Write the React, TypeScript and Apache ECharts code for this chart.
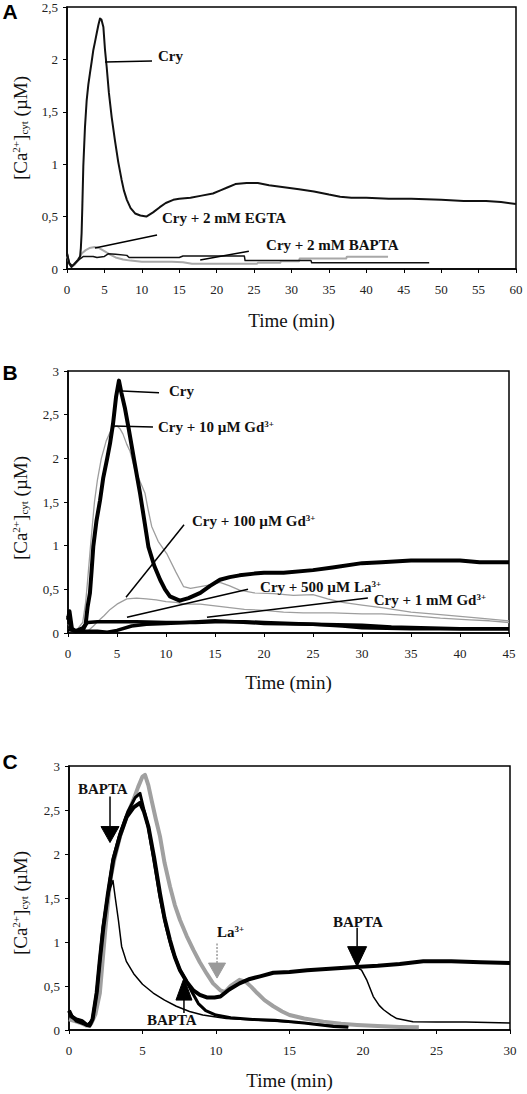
import React, { useEffect, useRef } from "react";
import * as echarts from "echarts";

type P = [number, number];

// ---------- Panel A (time in min, [Ca2+]cyt in µM) ----------
const aCry: P[] = [
  [0, 0.15], [0.3, 0.05], [0.6, 0.02], [1.0, 0.05], [1.5, 0.09], [1.75, 0.12], [1.85, 0.2], [1.95, 0.34],
  [2.05, 0.6], [2.18, 0.98], [2.4, 1.35], [2.63, 1.61], [2.85, 1.76], [3.07, 1.87], [3.3, 1.98], [3.52, 2.09],
  [3.75, 2.17], [3.97, 2.25], [4.2, 2.33], [4.41, 2.39], [4.6, 2.38], [4.86, 2.31], [5.08, 2.09], [5.3, 1.93],
  [5.6, 1.68], [5.97, 1.45], [6.4, 1.23], [6.85, 1.02], [7.3, 0.85], [7.6, 0.75], [8.0, 0.66], [8.5, 0.58],
  [9.1, 0.53], [9.8, 0.51], [10.6, 0.5], [11.5, 0.54], [12.4, 0.59], [13.2, 0.63], [14.2, 0.66], [15, 0.67],
  [16.5, 0.68], [18, 0.7], [19.5, 0.72], [20.5, 0.75], [21.5, 0.78], [22.5, 0.81], [24, 0.82], [25.5, 0.82],
  [27, 0.8], [29, 0.78], [31, 0.76], [33, 0.74], [35, 0.71], [36.5, 0.69], [38, 0.68], [40, 0.68], [43, 0.67],
  [46, 0.67], [50, 0.66], [53, 0.65], [56, 0.65], [58, 0.64], [60, 0.62],
];
const aEgta: P[] = [
  [0, 0.12], [0.3, 0.06], [0.6, 0.02], [1.0, 0.04], [1.5, 0.09], [2.0, 0.15], [2.5, 0.18], [3.0, 0.2],
  [3.7, 0.21], [4.3, 0.2], [5.0, 0.17], [5.7, 0.14], [6.5, 0.11], [7.5, 0.09], [8.5, 0.08], [10, 0.07],
  [12, 0.07], [14, 0.07], [15.5, 0.065], [16.7, 0.05], [20, 0.05], [22, 0.05], [25.4, 0.05], [25.5, 0.06],
  [28.5, 0.06], [28.6, 0.075], [31, 0.075], [31.1, 0.1], [37.3, 0.1], [37.4, 0.117], [42.9, 0.117],
];
const aBapta: P[] = [
  [0, 0.16], [0.3, 0.06], [0.7, 0.03], [1.2, 0.06], [1.8, 0.1], [2.2, 0.12], [3.5, 0.12], [4, 0.11], [5, 0.12],
  [5.5, 0.145], [6.5, 0.14], [8, 0.13], [8.3, 0.11], [12, 0.11], [15, 0.11], [15.5, 0.124], [23.7, 0.124],
  [23.8, 0.08], [32.6, 0.08], [32.7, 0.06], [48.4, 0.06],
];

// ---------- Panel B ----------
const bCry: P[] = [
  [0, 0.15], [0.15, 0.25], [0.4, 0.05], [0.8, 0.02], [1.5, 0.03], [1.8, 0.1], [2.0, 0.3], [2.24, 0.46],
  [2.4, 0.7], [2.58, 0.99], [2.9, 1.28], [3.27, 1.52], [3.6, 1.78], [4.0, 2.0], [4.29, 2.17], [4.6, 2.4],
  [4.9, 2.7], [5.2, 2.89], [5.45, 2.75], [5.8, 2.58], [6.16, 2.36], [6.75, 1.98], [7.35, 1.6], [7.8, 1.28],
  [8.2, 0.99], [8.8, 0.77], [9.4, 0.61], [9.9, 0.5], [10.4, 0.42], [11.4, 0.37], [12.3, 0.4], [13.5, 0.46],
  [14.5, 0.54], [15.5, 0.61], [16.5, 0.64], [17.5, 0.66], [19, 0.68], [20, 0.69], [22, 0.69], [25, 0.72],
  [27, 0.75], [30, 0.8], [32, 0.81], [35, 0.83], [38, 0.83], [40, 0.83], [42, 0.81], [45, 0.81],
];
const bGd10: P[] = [
  [0, 0.1], [0.5, 0.03], [1.0, 0.05], [1.5, 0.12], [1.8, 0.35], [2.0, 0.6], [2.3, 1.0], [2.7, 1.5],
  [3.0, 1.75], [3.4, 2.0], [3.9, 2.2], [4.3, 2.3], [4.7, 2.36], [5.0, 2.37], [5.3, 2.34], [5.6, 2.28],
  [6.0, 2.16], [6.33, 2.08], [6.8, 1.88], [7.3, 1.75], [7.86, 1.6], [8.2, 1.4], [8.54, 1.22], [9.2, 1.05],
  [10.07, 0.91], [11, 0.7], [11.8, 0.53], [12.5, 0.51], [13.5, 0.53], [14.5, 0.55], [15.5, 0.58], [16.5, 0.54],
  [17.5, 0.49], [19, 0.46], [21, 0.45], [23, 0.43], [25, 0.44], [26.5, 0.39], [28, 0.35], [30, 0.32],
  [32, 0.29], [35, 0.24], [38, 0.21], [40, 0.19], [42, 0.17], [45, 0.14],
];
const bGd100: P[] = [
  [0, 0.05], [1, 0.02], [2, 0.02], [2.6, 0.08], [3.2, 0.15], [3.7, 0.2], [4.3, 0.27], [5, 0.33], [6, 0.39],
  [7, 0.4], [8, 0.39], [9, 0.38], [10, 0.36], [11, 0.35], [12, 0.33], [13.5, 0.33], [15, 0.31], [16.5, 0.29],
  [18, 0.27], [20, 0.26], [22, 0.24], [24, 0.23], [27, 0.23], [30, 0.22], [32, 0.22], [35, 0.2], [38, 0.17],
  [41, 0.15], [43, 0.14], [45, 0.12],
];
const bLa500: P[] = [
  [0, 0.2], [0.3, 0.05], [0.7, 0.02], [1.5, 0.06], [2.0, 0.12], [3, 0.13], [5, 0.13], [7, 0.13], [10, 0.12],
  [13, 0.12], [15, 0.13], [18, 0.13], [20, 0.12], [25, 0.1], [28, 0.08], [30, 0.06], [35, 0.05], [40, 0.05],
  [45, 0.05],
];
const bGd1mM: P[] = [
  [0, 0.04], [1, 0.02], [3, 0.02], [4, 0.01], [5, 0.03], [6.5, 0.08], [8, 0.1], [10, 0.11], [12, 0.12],
  [15, 0.14], [17, 0.13], [20, 0.11], [25, 0.1], [30, 0.09], [33, 0.07], [36, 0.06], [40, 0.05], [45, 0.05],
];

// ---------- Panel C ----------
const cControl: P[] = [
  [0, 0.22], [0.2, 0.15], [0.5, 0.12], [0.9, 0.1], [1.2, 0.06], [1.4, 0.05], [1.6, 0.12], [1.88, 0.42],
  [2.1, 0.8], [2.34, 1.17], [2.65, 1.55], [3.01, 1.93], [3.45, 2.2], [3.92, 2.42], [4.4, 2.53], [4.83, 2.58],
  [5.1, 2.48], [5.4, 2.31], [5.8, 1.95], [6.19, 1.55], [6.5, 1.27], [6.87, 1.02], [7.2, 0.83], [7.55, 0.68],
  [8.0, 0.55], [8.46, 0.45], [8.9, 0.4], [9.37, 0.37], [9.9, 0.37], [10.3, 0.38], [10.9, 0.46], [11.6, 0.53],
  [12.3, 0.58], [13.0, 0.61], [13.9, 0.65], [15, 0.66], [16.2, 0.68], [18, 0.7], [19.8, 0.72], [21, 0.73],
  [22.5, 0.75], [24.1, 0.78], [26, 0.78], [28, 0.77], [30, 0.76],
];
const cBapta3: P[] = [
  [0, 0.2], [0.5, 0.12], [1.2, 0.06], [1.6, 0.12], [1.88, 0.42], [2.34, 1.17], [2.7, 1.55], [2.99, 1.7],
  [3.15, 1.5], [3.36, 1.25], [3.58, 0.95], [3.9, 0.78], [4.4, 0.64], [5.0, 0.52], [5.73, 0.42], [6.5, 0.34],
  [7.3, 0.27], [8.2, 0.21], [9.1, 0.17], [10.7, 0.13], [12, 0.12], [14, 0.1], [16, 0.08], [18, 0.05],
  [19, 0.04],
];
const cBapta8: P[] = [
  [0, 0.2], [0.5, 0.1], [1.3, 0.05], [1.6, 0.12], [1.9, 0.45], [2.3, 1.15], [2.7, 1.6], [3.0, 1.95],
  [3.5, 2.25], [4.0, 2.48], [4.5, 2.64], [4.83, 2.69], [5.1, 2.5], [5.4, 2.3], [5.8, 1.9], [6.2, 1.5],
  [6.6, 1.18], [7.0, 0.92], [7.5, 0.7], [8.0, 0.55], [8.4, 0.42], [8.8, 0.3], [9.3, 0.22], [10, 0.17],
  [11, 0.14], [12.5, 0.12], [14, 0.11], [16, 0.08], [18, 0.04], [19, 0.03],
];
const cBapta20: P[] = [
  [19.5, 0.72], [19.9, 0.68], [20.25, 0.57], [20.7, 0.38], [21.1, 0.28], [21.4, 0.23], [21.9, 0.17],
  [22.3, 0.13], [23.4, 0.095], [25, 0.09], [27, 0.09], [30, 0.08],
];
const cLa: P[] = [
  [0, 0.12], [0.4, 0.1], [0.8, 0.08], [1.2, 0.05], [1.5, 0.07], [1.8, 0.18], [2.1, 0.42], [2.45, 1.1],
  [2.8, 1.7], [3.1, 1.95], [3.47, 2.2], [3.9, 2.42], [4.37, 2.61], [4.7, 2.76], [5.0, 2.88], [5.17, 2.9],
  [5.4, 2.78], [5.62, 2.61], [5.9, 2.4], [6.19, 2.2], [6.5, 1.9], [6.87, 1.63], [7.2, 1.42], [7.55, 1.25],
  [8.0, 1.07], [8.46, 0.91], [8.9, 0.77], [9.37, 0.64], [9.8, 0.53], [10.3, 0.45], [10.6, 0.43], [11.0, 0.5],
  [11.6, 0.57], [12.0, 0.55], [12.4, 0.49], [12.8, 0.42], [13.3, 0.34], [13.9, 0.27], [14.5, 0.21], [15, 0.17],
  [16, 0.13], [17.3, 0.095], [18.5, 0.07], [19.6, 0.057], [21, 0.045], [22.5, 0.035], [23.8, 0.03],
];

// ---------- axes ----------
const xMaxes = [60, 45, 30];
const yMaxes = [2.5, 3, 3];

// ---------- annotations (anchors in data coordinates) ----------
type Note = { g: number; text: string; sup?: string; at: P; from?: P; to?: P };
const notes: Note[] = [
  { g: 0, text: "Cry", at: [12.16, 2.03], from: [5.08, 1.975], to: [11.36, 1.985] },
  { g: 0, text: "Cry + 2 mM EGTA", at: [12.7, 0.487], from: [3.74, 0.2], to: [12.03, 0.324] },
  { g: 0, text: "Cry + 2 mM BAPTA", at: [26.6, 0.23], from: [17.8, 0.086], to: [24.3, 0.17] },
  { g: 1, text: "Cry", at: [10.3, 2.77], from: [5.51, 2.77], to: [9.29, 2.75] },
  { g: 1, text: "Cry + 10 µM Gd", sup: "3+", at: [9.18, 2.36], from: [4.59, 2.37], to: [8.67, 2.36] },
  { g: 1, text: "Cry + 100 µM Gd", sup: "3+", at: [12.65, 1.28], from: [5.92, 0.41], to: [11.84, 1.24] },
  { g: 1, text: "Cry + 500 µM La", sup: "3+", at: [19.6, 0.53], from: [6.02, 0.18], to: [18.37, 0.5] },
  { g: 1, text: "Cry + 1 mM Gd", sup: "3+", at: [31.2, 0.38], from: [14.18, 0.18], to: [30.6, 0.4] },
  { g: 2, text: "BAPTA", at: [0.61, 2.74] },
  { g: 2, text: "BAPTA", at: [5.3, 0.11] },
  { g: 2, text: "La", sup: "3+", at: [10.07, 1.11] },
  { g: 2, text: "BAPTA", at: [17.96, 1.23] },
];
type Arrow = { tip: P; dir: "down" | "up"; color: string; triH: number; hw: number; stem: number; dashed?: boolean };
const cArrows: Arrow[] = [
  { tip: [2.79, 2.13], dir: "down", color: "#000", triH: 16, hw: 9, stem: 30 },
  { tip: [7.82, 0.59], dir: "up", color: "#000", triH: 22, hw: 8, stem: 13 },
  { tip: [10.07, 0.59], dir: "down", color: "#9a9a9a", triH: 15, hw: 8.5, stem: 20, dashed: true },
  { tip: [19.6, 0.72], dir: "down", color: "#000", triH: 20, hw: 9.5, stem: 19 },
];

const SERIF = '"Liberation Serif", "Times New Roman", serif';
const grids = [
  { left: 67, top: 7, width: 449, height: 262 },
  { left: 68, top: 371, width: 441, height: 262 },
  { left: 69, top: 766, width: 441, height: 264 },
];
const panelLetters = ["A", "B", "C"];
const letterY = [11, 372, 761];
const yTitleY = [128, 508, 903];
const xTitleY = [320, 682, 1080];

function series(g: number, data: P[], color: string, width: number, z = 2) {
  return {
    type: "line",
    xAxisIndex: g,
    yAxisIndex: g,
    data,
    symbol: "none",
    showSymbol: false,
    silent: true,
    z,
    lineStyle: { color, width, join: "round" },
  };
}

export default function App() {
  const ref = useRef<HTMLDivElement>(null);
  useEffect(() => {
    if (!ref.current) return;
    const chart = echarts.init(ref.current, undefined, { renderer: "svg" });
    const GRAY = "#9e9e9e";
    chart.setOption({
      animation: false,
      backgroundColor: "#fff",
      grid: grids.map((g) => ({ ...g, show: true, borderColor: "#000", borderWidth: 1.5, backgroundColor: "transparent" })),
      xAxis: xMaxes.map((mx, i) => ({
        type: "value",
        gridIndex: i,
        min: 0,
        max: mx,
        interval: 5,
        axisLine: { onZero: false, lineStyle: { color: "#000", width: 1.5 } },
        axisTick: { show: true, inside: false, length: 4, lineStyle: { color: "#000" } },
        splitLine: { show: false },
        axisLabel: { fontFamily: SERIF, fontSize: 13, color: "#222", margin: 14 },
      })),
      yAxis: yMaxes.map((mx, i) => ({
        type: "value",
        gridIndex: i,
        min: 0,
        max: mx,
        interval: 0.5,
        axisLine: { onZero: false, lineStyle: { color: "#000", width: 1.5 } },
        axisTick: { show: true, inside: false, length: 4, lineStyle: { color: "#000" } },
        splitLine: { show: false },
        axisLabel: {
          fontFamily: SERIF,
          fontSize: 13,
          color: "#222",
          margin: 9,
          formatter: (v: number) => String(v).replace(".", ","),
        },
      })),
      series: [
        series(0, aEgta, "#a8a8a8", 2),
        series(0, aBapta, "#111", 1.5),
        series(0, aCry, "#111", 2),
        series(1, bGd100, GRAY, 1.3),
        series(1, bGd10, GRAY, 1.3),
        series(1, bGd1mM, "#000", 3.5),
        series(1, bLa500, "#000", 3.5),
        series(1, bCry, "#000", 4),
        series(2, cLa, "#a0a0a0", 4),
        series(2, cBapta3, "#000", 1.5),
        series(2, cBapta8, "#000", 3),
        series(2, cBapta20, "#000", 1.5),
        series(2, cControl, "#000", 4),
      ],
    });

    const px = (g: number, p: P) => chart.convertToPixel({ gridIndex: g }, p) as unknown as number[];
    const rich = {
      n: { fontSize: 15, fontWeight: "bold", fontFamily: SERIF, fill: "#111", verticalAlign: "middle" },
      s: { fontSize: 9, fontWeight: "bold", fontFamily: SERIF, fill: "#111", verticalAlign: "top" },
    };
    const graphic: any[] = [];
    notes.forEach((n, i) => {
      const [x, y] = px(n.g, n.at);
      graphic.push({
        type: "text",
        id: "note" + i,
        x,
        y,
        z: 10,
        style: {
          text: `{n|${n.text}}` + (n.sup ? `{s|${n.sup}}` : ""),
          rich,
          align: "left",
          verticalAlign: "middle",
        },
      });
      if (n.from && n.to) {
        const a = px(n.g, n.from);
        const b = px(n.g, n.to);
        graphic.push({
          type: "line",
          id: "ptr" + i,
          z: 10,
          shape: { x1: a[0], y1: a[1], x2: b[0], y2: b[1] },
          style: { stroke: "#000", lineWidth: 1.5 },
        });
      }
    });
    cArrows.forEach((a, i) => {
      const [x, y] = px(2, a.tip);
      const s = a.dir === "down" ? -1 : 1;
      const base = y + s * a.triH;
      graphic.push({
        type: "polygon",
        id: "arrow" + i,
        z: 11,
        shape: { points: [[x, y], [x - a.hw, base], [x + a.hw, base]] },
        style: { fill: a.color, stroke: a.color, lineWidth: 1 },
      });
      graphic.push({
        type: "line",
        id: "stem" + i,
        z: 11,
        shape: { x1: x, y1: base, x2: x, y2: base + s * a.stem },
        style: { stroke: a.color, lineWidth: 1.5, lineDash: a.dashed ? [2, 1.5] : null },
      });
    });
    panelLetters.forEach((L, i) => {
      graphic.push({
        type: "text",
        id: "letter" + i,
        x: 10,
        y: letterY[i],
        style: {
          text: L,
          font: 'bold 21px "Liberation Sans", Arial, sans-serif',
          fill: "#000",
          align: "center",
          verticalAlign: "middle",
        },
      });
      const g = grids[i];
      graphic.push({
        type: "text",
        id: "xt" + i,
        x: g.left + g.width / 2,
        y: xTitleY[i],
        style: {
          text: "Time (min)",
          font: `19px ${SERIF}`,
          fill: "#111",
          align: "center",
          verticalAlign: "middle",
        },
      });
      graphic.push({
        type: "text",
        id: "yt" + i,
        x: 20,
        y: yTitleY[i],
        rotation: Math.PI / 2,
        style: {
          text: "{m|[Ca}{p|2+}{m|]}{b|cyt}{m| (µM)}",
          rich: {
            m: { fontSize: 19, fontFamily: SERIF, fill: "#111", verticalAlign: "middle" },
            p: { fontSize: 11, fontFamily: SERIF, fill: "#111", verticalAlign: "top" },
            b: { fontSize: 11, fontFamily: SERIF, fill: "#111", verticalAlign: "bottom" },
          },
          align: "center",
          verticalAlign: "middle",
        },
      });
    });
    chart.setOption({ graphic });
    return () => chart.dispose();
  }, []);
  return <div ref={ref} style={{ position: "absolute", left: 0, top: 0, width: 527, height: 1094 }} />;
}
